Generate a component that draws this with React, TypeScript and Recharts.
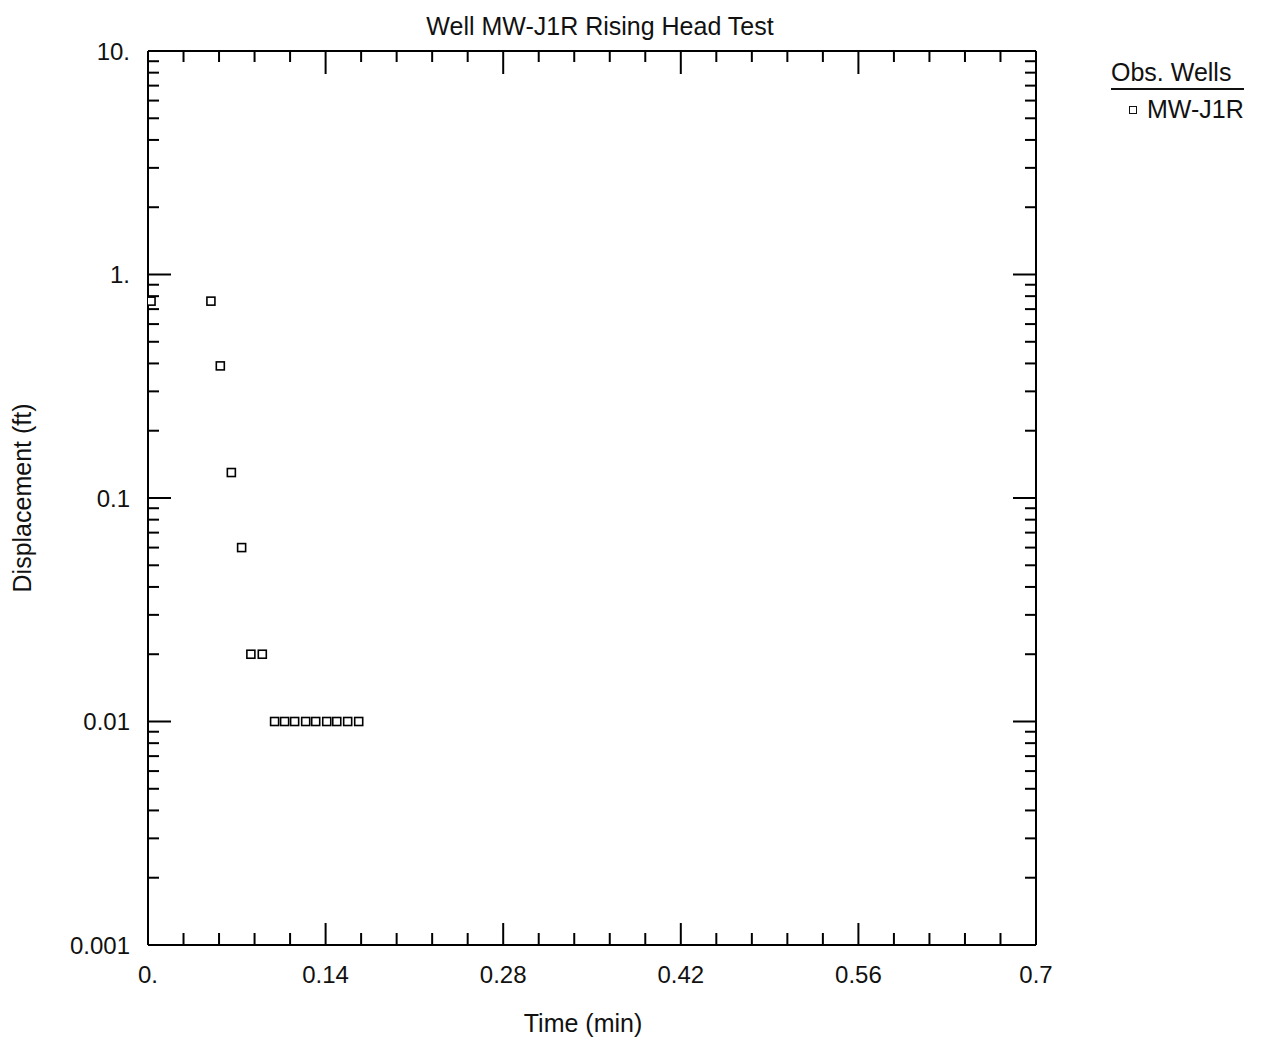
import { ScatterChart, Scatter, XAxis, YAxis } from "recharts";

const TIME_MIN = [
  0.0024, 0.0496, 0.057, 0.0657, 0.0738, 0.0811, 0.0901, 0.0998, 0.1077, 0.1156,
  0.1243, 0.1322, 0.1409, 0.1488, 0.1574, 0.1661,
];
const DISPLACEMENT_FT = [
  0.76, 0.76, 0.39, 0.13, 0.06, 0.02, 0.02, 0.01, 0.01, 0.01, 0.01, 0.01, 0.01,
  0.01, 0.01, 0.01,
];

const X_TICKS = [
  0, 0.028, 0.056, 0.084, 0.112, 0.14, 0.168, 0.196, 0.224, 0.252, 0.28, 0.308,
  0.336, 0.364, 0.392, 0.42, 0.448, 0.476, 0.504, 0.532, 0.56, 0.588, 0.616,
  0.644, 0.672, 0.7,
];
const X_MAJOR = [0, 0.14, 0.28, 0.42, 0.56, 0.7];
const X_LABELS = ["0.", "0.14", "0.28", "0.42", "0.56", "0.7"];

const Y_MAJOR = [0.001, 0.01, 0.1, 1, 10];
const Y_LABELS = ["0.001", "0.01", "0.1", "1.", "10."];
const Y_MINOR_STEPS = [2, 3, 4, 5, 6, 7, 8, 9];

const Y_TICKS = Y_MAJOR.flatMap((m, i) =>
  i < Y_MAJOR.length - 1 ? [m, ...Y_MINOR_STEPS.map((s) => +(m * s).toPrecision(3))] : [m]
);

const FONT = "'Liberation Sans', Arial, sans-serif";
const TICK_FONT = 24;
const LABEL_FONT = 25;

const data = TIME_MIN.map((t, i) => ({ t, d: DISPLACEMENT_FT[i] }));

const majorIndex = (list: number[], v: number) =>
  list.findIndex((m) => Math.abs(m - v) < 1e-9);

const BottomTick = ({ x, y, payload }: any) => {
  const i = majorIndex(X_MAJOR, payload.value);
  return (
    <g>
      <line x1={x} y1={y} x2={x} y2={y - (i >= 0 ? 22 : 12)} stroke="#000" strokeWidth={2} />
      {i >= 0 && (
        <text x={x} y={y + 29} dy="0.355em" textAnchor="middle" fontSize={TICK_FONT} fontFamily={FONT} fill="#111">
          {X_LABELS[i]}
        </text>
      )}
    </g>
  );
};

const TopTick = ({ x, y, payload }: any) => {
  const i = majorIndex(X_MAJOR, payload.value);
  return <line x1={x} y1={y} x2={x} y2={y + (i >= 0 ? 23 : 11)} stroke="#000" strokeWidth={2} />;
};

const LeftTick = ({ x, y, payload }: any) => {
  const i = majorIndex(Y_MAJOR, payload.value);
  return (
    <g>
      <line x1={x} y1={y} x2={x + (i >= 0 ? 23 : 11)} y2={y} stroke="#000" strokeWidth={2} />
      {i >= 0 && (
        <text x={x - 18} y={y} dy="0.355em" textAnchor="end" fontSize={TICK_FONT} fontFamily={FONT} fill="#111">
          {Y_LABELS[i]}
        </text>
      )}
    </g>
  );
};

const RightTick = ({ x, y, payload }: any) => {
  const i = majorIndex(Y_MAJOR, payload.value);
  return <line x1={x} y1={y} x2={x - (i >= 0 ? 23 : 11)} y2={y} stroke="#000" strokeWidth={2} />;
};

const SquareMark = (props: any) => (
  <rect x={props.cx - 4} y={props.cy - 4} width={8} height={8} fill="#fff" stroke="#000" strokeWidth={1.6} />
);

export default function App() {
  return (
    <div style={{ position: "absolute", left: 0, top: 0, width: 1262, height: 1042, background: "#fff", fontFamily: FONT }}>
      <div
        style={{
          position: "absolute",
          left: 600,
          top: 12,
          transform: "translateX(-50%)",
          fontSize: LABEL_FONT,
          color: "#111",
          whiteSpace: "nowrap",
        }}
      >
        Well MW-J1R Rising Head Test
      </div>

      <div style={{ position: "absolute", left: 1111, top: 58, color: "#111", fontSize: LABEL_FONT }}>
        <div style={{ borderBottom: "2px solid #111", paddingBottom: 1, whiteSpace: "nowrap" }}>Obs. Wells</div>
        <div style={{ display: "flex", alignItems: "center", marginTop: 5, marginLeft: 18, whiteSpace: "nowrap" }}>
          <span style={{ display: "inline-block", width: 6, height: 6, border: "1.5px solid #111", marginRight: 10 }} />
          MW-J1R
        </div>
      </div>

      <ScatterChart width={1262} height={1042} margin={{ top: 41, right: 216, bottom: 0, left: 0 }}>
        <XAxis
          xAxisId="bottom"
          dataKey="t"
          type="number"
          domain={[0, 0.7]}
          allowDataOverflow
          ticks={X_TICKS}
          interval={0}
          height={97}
          tickSize={0}
          tickMargin={0}
          tickLine={false}
          tick={<BottomTick />}
          axisLine={{ stroke: "#000", strokeWidth: 2 }}
          label={{
            value: "Time (min)",
            position: "insideBottom",
            offset: 10,
            dx: -9,
            fontSize: LABEL_FONT,
            fontFamily: FONT,
            fill: "#111",
          }}
        />
        <XAxis
          xAxisId="top"
          orientation="top"
          dataKey="t"
          type="number"
          domain={[0, 0.7]}
          allowDataOverflow
          ticks={X_TICKS}
          interval={0}
          height={10}
          tickSize={0}
          tickMargin={0}
          tickLine={false}
          tick={<TopTick />}
          axisLine={{ stroke: "#000", strokeWidth: 2 }}
        />
        <YAxis
          yAxisId="left"
          dataKey="d"
          type="number"
          scale="log"
          domain={[0.001, 10]}
          allowDataOverflow
          ticks={Y_TICKS}
          interval={0}
          width={148}
          tickSize={0}
          tickMargin={0}
          tickLine={false}
          tick={<LeftTick />}
          axisLine={{ stroke: "#000", strokeWidth: 2 }}
          label={{
            value: "Displacement (ft)",
            angle: -90,
            position: "insideLeft",
            offset: 22,
            fontSize: LABEL_FONT,
            fontFamily: FONT,
            fill: "#111",
            style: { textAnchor: "middle" },
          }}
        />
        <YAxis
          yAxisId="right"
          orientation="right"
          dataKey="d"
          type="number"
          scale="log"
          domain={[0.001, 10]}
          allowDataOverflow
          ticks={Y_TICKS}
          interval={0}
          width={10}
          tickSize={0}
          tickMargin={0}
          tickLine={false}
          tick={<RightTick />}
          axisLine={{ stroke: "#000", strokeWidth: 2 }}
        />
        <Scatter
          name="MW-J1R"
          data={data}
          xAxisId="bottom"
          yAxisId="left"
          shape={<SquareMark />}
          isAnimationActive={false}
        />
      </ScatterChart>
    </div>
  );
}
